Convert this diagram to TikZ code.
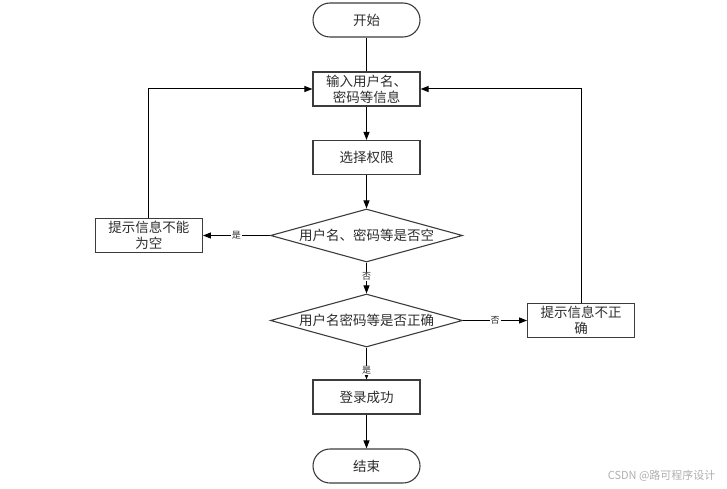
\documentclass[tikz,border=0pt]{standalone}
\usepackage{fontspec}
\setmainfont{Noto Sans CJK SC}
\usepackage{xcolor}
\usepackage{tikz}
\usetikzlibrary{shapes.geometric, arrows.meta, positioning}
\definecolor{edgegray}{RGB}{60, 60, 60}
\definecolor{textgray}{RGB}{45, 45, 45}
\definecolor{markgray}{RGB}{175, 175, 175}

\begin{document}
\begin{tikzpicture}[x=1pt, y=-1pt,
    terminal/.style={draw=edgegray, line width=1.1pt, rounded corners=17pt, minimum width=107pt,
                     minimum height=34pt, font=\fontsize{13.5pt}{16pt}\selectfont, text=textgray},
    stepbox/.style={draw=edgegray, line width=1.1pt, minimum width=107pt, minimum height=34pt,
                    inner xsep=1pt, inner ysep=0pt, align=center, font=\fontsize{13.5pt}{16pt}\selectfont, text=textgray},
    decision/.style={diamond, draw=edgegray, line width=1.1pt, aspect=3.6, inner sep=0pt,
                     minimum width=192pt, minimum height=53pt, font=\fontsize{13.5pt}{16pt}\selectfont, text=textgray},
    flow/.style={-{Triangle[length=8pt, width=6pt]}, line width=1pt},
    tag/.style={font=\fontsize{9pt}{10pt}\selectfont, fill=white, inner sep=1pt, text=textgray}
]
    \useasboundingbox (0,0) rectangle (727,489);

    \node[terminal] (start) at (366.5,20) {开始};
    \node[stepbox] (input) at (366.5,89) {输入用户名、\\密码等信息};
    \node[stepbox] (role) at (366.5,157.5) {选择权限};
    \node[decision] (isempty) at (366.5,235.5) {用户名、密码等是否空};
    \node[stepbox, left=67pt of isempty] (emptymsg) {提示信息不能\\为空};
    \node[decision] (iscorrect) at (366.5,320.5) {用户名密码等是否正确};
    \node[stepbox, right=64pt of iscorrect] (wrongmsg) {提示信息不正\\确};
    \node[stepbox] (success) at (366.5,397) {登录成功};
    \node[terminal] (finish) at (366.5,466) {结束};

    \draw[line width=1pt] (start) -- (input);
    \draw[flow] (input) -- (role);
    \draw[flow] (role) -- (isempty);
    \draw[flow] (isempty) -- node[tag] {是} (emptymsg);
    \draw[flow] (emptymsg.north) |- (input.west);
    \draw[flow] (isempty) -- node[tag, pos=0.45] {否} (iscorrect);
    \draw[flow] (iscorrect) -- node[tag] {否} (wrongmsg);
    \draw[flow] (wrongmsg.north) |- (input.east);
    \draw[flow] (iscorrect) -- node[tag, pos=0.72] {是} (success);
    \draw[flow] (success) -- (finish);

    \node[anchor=east, text=markgray, font=\fontsize{11pt}{12pt}\selectfont] (mark) at (719,476) {CSDN @路可程序设计};
\end{tikzpicture}
\end{document}
